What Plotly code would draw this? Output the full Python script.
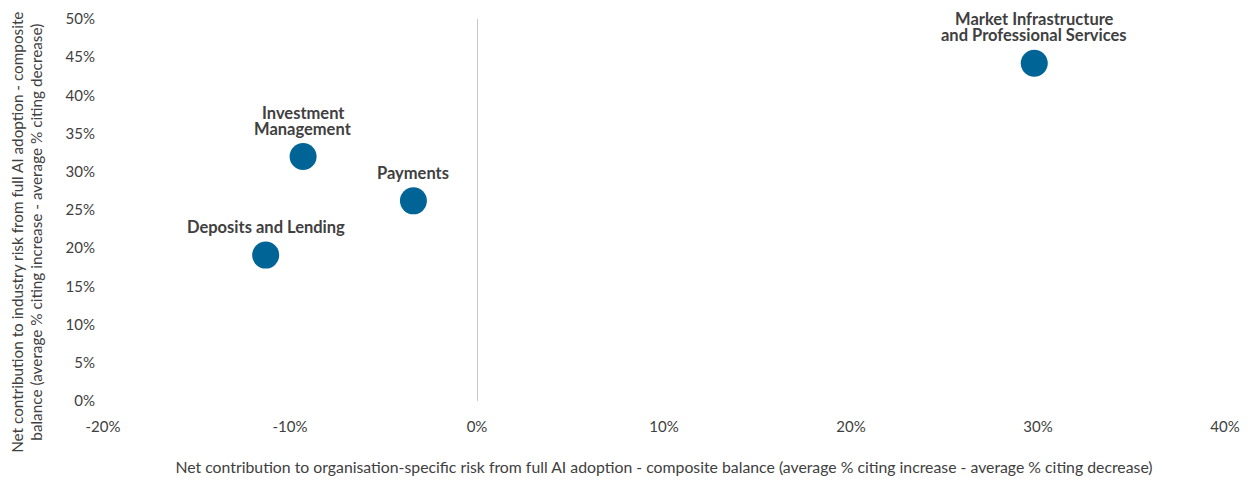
import plotly.graph_objects as go

categories = ["Market Infrastructure<br>and Professional Services", "Investment<br>Management", "Payments", "Deposits and Lending"]
x_vals = [29.8, -9.3, -3.4, -11.3]
y_vals = [44.2, 32.0, 26.2, 19.1]

x_ticks = [-20, -10, 0, 10, 20, 30, 40]
y_ticks = [0, 5, 10, 15, 20, 25, 30, 35, 40, 45, 50]

FONT = "Lato"
TXT = "#404040"

fig = go.Figure()
fig.add_trace(go.Scatter(
    x=x_vals, y=y_vals, mode="markers",
    marker=dict(size=27, color="#006496", line=dict(width=0)),
    hoverinfo="skip", showlegend=False, cliponaxis=False,
))

for c, xv, yv in zip(categories, x_vals, y_vals):
    lines = c.split("<br>")
    n = len(lines)
    for i, line in enumerate(lines):
        fig.add_annotation(x=xv, y=yv, text="<b>" + line + "</b>", showarrow=False,
                           xanchor="center", yanchor="bottom", yshift=16 + (n - 1 - i) * 16,
                           font=dict(family=FONT, size=16.5, color=TXT))

fig.add_annotation(
    xref="paper", yref="paper", x=-0.068, y=0.442, textangle=-90,
    text="Net contribution to industry risk from full AI adoption - composite<br>balance (average % citing increase - average % citing decrease)",
    showarrow=False, xanchor="center", yanchor="middle",
    font=dict(family=FONT, size=15.3, color=TXT))

fig.update_layout(
    width=1242, height=475,
    margin=dict(l=95, r=25, t=11, b=82, autoexpand=False),
    paper_bgcolor="white", plot_bgcolor="white",
    font=dict(family=FONT, size=15, color=TXT),
    xaxis=dict(range=[-20, 40], tickvals=x_ticks, ticktext=[f"{v}%" for v in x_ticks],
               automargin=False,
               showgrid=False, zeroline=True, zerolinecolor="#c8c8c8", zerolinewidth=1,
               showline=False, ticks="outside", ticklen=12, tickcolor="rgba(0,0,0,0)",
               title=dict(text="Net contribution to organisation-specific risk from full AI adoption - composite balance (average % citing increase - average % citing decrease)",
                          font=dict(family=FONT, size=15.8, color=TXT), standoff=27)),
    yaxis=dict(range=[0, 50], tickvals=y_ticks, ticktext=[f"{v}%" for v in y_ticks],
               automargin=False,
               showgrid=False, zeroline=False, showline=False,
               ticks="outside", ticklen=4, tickcolor="rgba(0,0,0,0)",
               ),
)

fig.write_html("out.html")
